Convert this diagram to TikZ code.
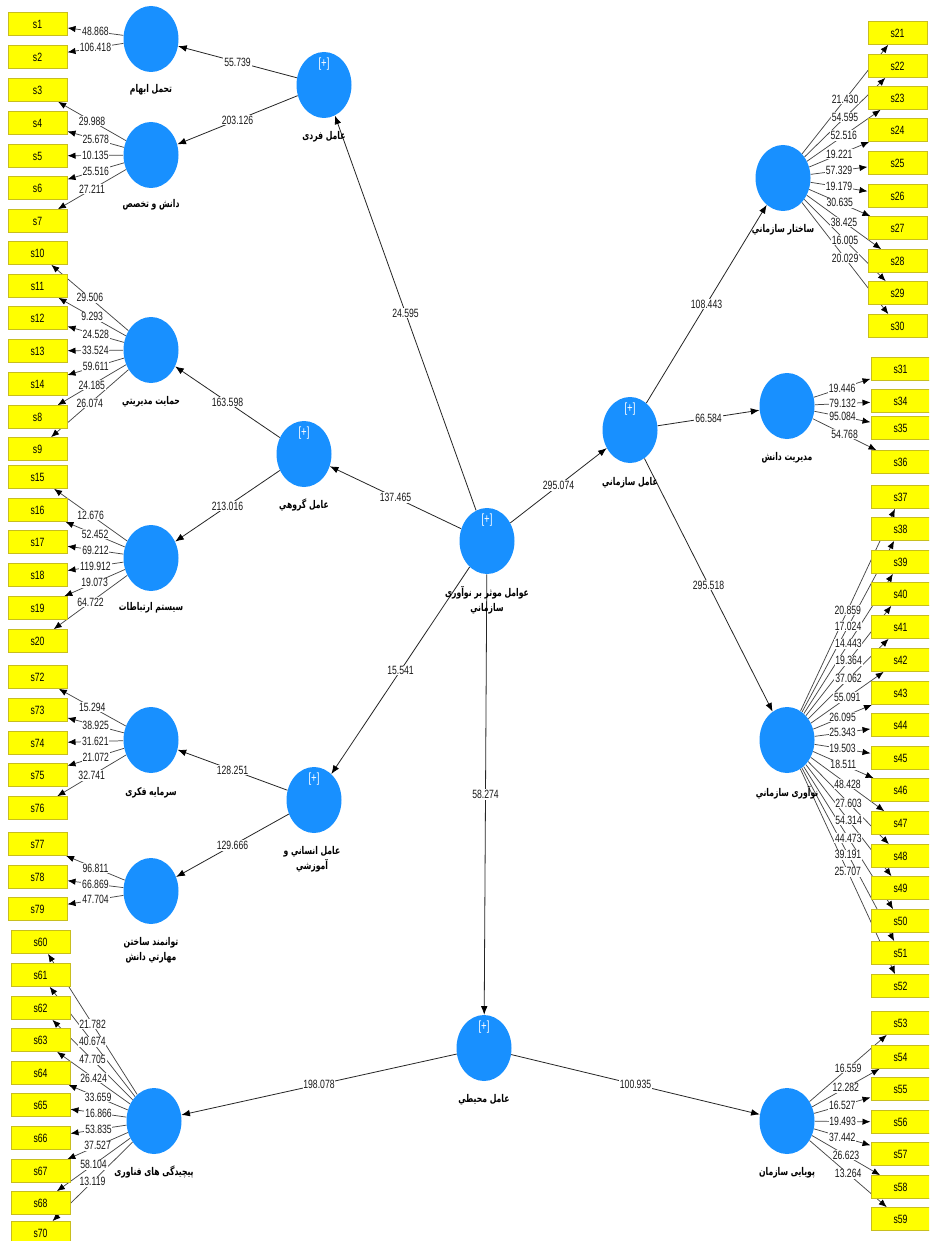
\documentclass[tikz,border=0pt]{standalone}
\usepackage{fontspec}
\setmainfont{Liberation Sans}
\newfontfamily\nar[FakeStretch=0.72]{Liberation Sans}
\newfontfamily\fa[Script=Arabic,FakeStretch=0.72]{DejaVu Sans}
\TeXXeTstate=1
\usetikzlibrary{shapes.geometric,arrows.meta,calc}
\definecolor{lvblue}{RGB}{24,144,255}
\definecolor{boxyel}{RGB}{255,255,0}
\definecolor{boxedge}{RGB}{200,190,30}
\definecolor{indline}{RGB}{70,70,70}
\pgfdeclarelayer{bg}
\pgfsetlayers{bg,main}
\tikzset{
 lv/.style={ellipse, fill=lvblue, draw=none, minimum width=41.25pt, minimum height=49.5pt, inner sep=0pt},
 mv/.style={rectangle, fill=boxyel, draw=boxedge, line width=0.5pt, minimum width=44.5pt, minimum height=17.25pt, inner sep=0pt, font=\nar\fontsize{9}{10}\selectfont},
 ind/.style={draw=indline, line width=0.55pt, -{Latex[length=6pt,width=4.8pt,color=black]}},
 pth/.style={draw=black!85, line width=0.6pt, -{Latex[length=6.5pt,width=5pt,color=black]}},
 lbl/.style={fill=white, inner sep=0.6pt, font=\nar\fontsize{9}{10}\selectfont, text=black!90},
 plab/.style={font=\fa\bfseries\fontsize{8}{11.5}\selectfont, align=center, inner sep=0pt, text=black},
 plsign/.style={text=white, font=\nar\fontsize{10}{11}\selectfont, inner sep=0pt}
}
\def\indlist{tah/s1/48.868,tah/s2/106.418,dan/s3/29.988,dan/s4/25.678,dan/s5/10.135,dan/s6/25.516,dan/s7/27.211,%
hem/s10/29.506,hem/s11/9.293,hem/s12/24.528,hem/s13/33.524,hem/s14/59.611,hem/s8/24.185,hem/s9/26.074,%
sys/s15/12.676,sys/s16/52.452,sys/s17/69.212,sys/s18/119.912,sys/s19/19.073,sys/s20/64.722,%
sar/s72/15.294,sar/s73/38.925,sar/s74/31.621,sar/s75/21.072,sar/s76/32.741,%
tav/s77/96.811,tav/s78/66.869,tav/s79/47.704,%
pich/s60/21.782,pich/s61/40.674,pich/s62/47.705,pich/s63/26.424,pich/s64/33.659,pich/s65/16.866,pich/s66/53.835,pich/s67/37.527,pich/s68/58.104,pich/s70/13.119,%
sakh/s21/21.430,sakh/s22/54.595,sakh/s23/52.516,sakh/s24/19.221,sakh/s25/57.329,sakh/s26/19.179,sakh/s27/30.635,sakh/s28/38.425,sakh/s29/16.005,sakh/s30/20.029,%
mod/s31/19.446,mod/s34/79.132,mod/s35/95.084,mod/s36/54.768,%
noa/s37/20.859,noa/s38/17.024,noa/s39/14.443,noa/s40/19.364,noa/s41/37.062,noa/s42/55.091,noa/s43/26.095,noa/s44/25.343,noa/s45/19.503,noa/s46/18.511,noa/s47/48.428,noa/s48/27.603,noa/s49/54.314,noa/s50/44.473,noa/s51/39.191,noa/s52/25.707,%
pouy/s53/16.559,pouy/s54/12.282,pouy/s55/16.527,pouy/s56/19.493,pouy/s57/37.442,pouy/s58/26.623,pouy/s59/13.264}
\def\pthlist{fardi/tah/55.739,fardi/dan/203.126,main/fardi/24.595,main/goroh/137.465,main/sazm/295.074,main/ensani/15.541,main/mohit/58.274,goroh/hem/163.598,goroh/sys/213.016,ensani/sar/128.251,ensani/tav/129.666,mohit/pich/198.078,mohit/pouy/100.935,sazm/sakh/108.443,sazm/mod/66.584,sazm/noa/295.518}
\begin{document}
\begin{tikzpicture}[x=0.75pt,y=-0.75pt]
\useasboundingbox (0,0) rectangle (929,1241);
\clip (0,0) rectangle (929,1241);
% latent variables
\node[lv] (tah) at (151,39) {};
\node[lv] (dan) at (151,155) {};
\node[lv] (fardi) at (324,85) {};
\node[lv] (hem) at (151,350) {};
\node[lv] (goroh) at (304,454) {};
\node[lv] (sys) at (151,558) {};
\node[lv] (sar) at (151,740) {};
\node[lv] (ensani) at (314,800) {};
\node[lv] (tav) at (151,891) {};
\node[lv] (pich) at (154,1121) {};
\node[lv] (main) at (487,541) {};
\node[lv] (sazm) at (630,430) {};
\node[lv] (sakh) at (783,178) {};
\node[lv] (mod) at (787,406) {};
\node[lv] (noa) at (787,740) {};
\node[lv] (mohit) at (484,1048) {};
\node[lv] (pouy) at (787,1121) {};
% [+] marks
\foreach \n in {fardi,goroh,ensani,main,sazm,mohit}
  \node[plsign] at ($(\n)+(0,-21)$) {[+]};
% indicators
\foreach \n/\y in {1/24,2/57,3/90,4/123,5/156,6/188,7/221,10/253,11/286,12/318,13/351,14/384,8/417,9/449,15/477,16/510,17/542,18/575,19/608,20/641,72/677,73/710,74/743,75/775,76/808,77/844,78/877,79/909}
  \node[mv] (s\n) at (37.5,\y) {s\n};
\foreach \n/\y in {60/942,61/975,62/1008,63/1040,64/1073,65/1105,66/1138,67/1171,68/1203,70/1233}
  \node[mv] (s\n) at (40.5,\y) {s\n};
\foreach \n/\y in {21/33,22/66,23/98,24/130,25/163,26/196,27/228,28/261,29/293,30/326}
  \node[mv] (s\n) at (897.5,\y) {s\n};
\foreach \n/\y in {31/369,34/401,35/428,36/462,37/497,38/529,39/562,40/594,41/627,42/660,43/693,44/725,45/758,46/790,47/823,48/856,49/888,50/921,51/953,52/986,53/1023,54/1057,55/1089,56/1122,57/1154,58/1187,59/1219}
  \node[mv] (s\n) at (900.5,\y) {s\n};
% construct labels
\node[plab] at ($(tah)+(0,51)$) {\beginR تحمل ابهام\endR};
\node[plab] at ($(dan)+(0,50)$) {\beginR دانش و تخصص\endR};
\node[plab] at ($(fardi)+(0,52)$) {\beginR عامل فردی\endR};
\node[plab] at ($(hem)+(0,52)$) {\beginR حمایت مدیریتي\endR};
\node[plab] at ($(goroh)+(0,51)$) {\beginR عامل گروهي\endR};
\node[plab] at ($(sys)+(0,50)$) {\beginR سیستم ارتباطات\endR};
\node[plab] at ($(sar)+(0,53)$) {\beginR سرمایه فکری\endR};
\node[plab] at ($(ensani)+(-2,59)$) {\beginR عامل انساني و\endR\\\beginR آموزشي\endR};
\node[plab] at ($(tav)+(0,59.5)$) {\beginR توانمند ساختن\endR\\\beginR مهارتي دانش\endR};
\node[plab] at ($(pich)+(0,51)$) {\beginR پیچیدگی های فناوری\endR};
\node[plab] at ($(main)+(0,59)$) {\beginR عوامل موثر بر نوآوری\endR\\\beginR سازماني\endR};
\node[plab] at ($(sazm)+(0,53)$) {\beginR عامل سازماني\endR};
\node[plab] at ($(sakh)+(0,52)$) {\beginR ساختار سازماني\endR};
\node[plab] at ($(mod)+(0,52)$) {\beginR مدیریت دانش\endR};
\node[plab] at ($(noa)+(0,53)$) {\beginR نوآوری سازماني\endR};
\node[plab] at ($(mohit)+(0,52)$) {\beginR عامل محیطي\endR};
\node[plab] at ($(pouy)+(0,52)$) {\beginR پویایی سازمان\endR};
% connectors
\begin{pgfonlayer}{bg}
\fill[white] (0,0) rectangle (929,1241);
\foreach \c/\b/\v in \indlist { \draw[ind] (\c) -- (\b); }
\foreach \a/\b/\v in \pthlist { \draw[pth] (\a) -- (\b); }
\end{pgfonlayer}
\foreach \c/\b/\v in \indlist { \path (\c) -- node[lbl] {\v} (\b); }
\foreach \a/\b/\v in \pthlist { \path (\a) -- node[lbl] {\v} (\b); }
\end{tikzpicture}
\end{document}
